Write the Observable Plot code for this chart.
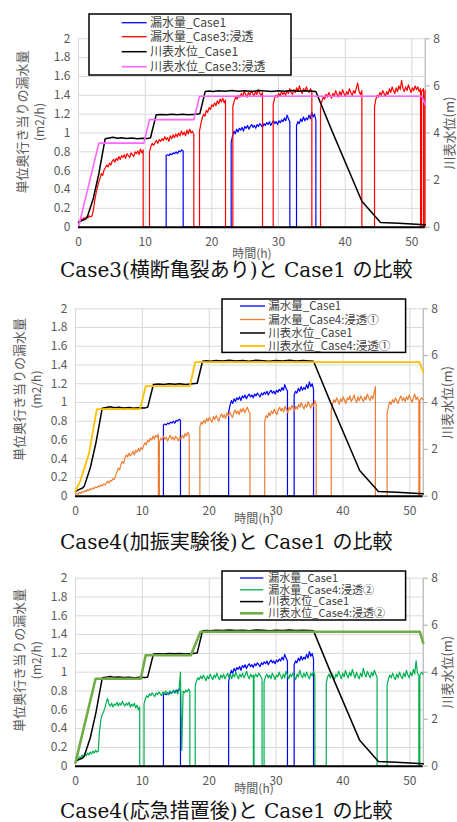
<!DOCTYPE html>
<html><head><meta charset="utf-8">
<script src="https://cdn.jsdelivr.net/npm/d3@7"></script>
<script src="https://cdn.jsdelivr.net/npm/@observablehq/plot@0.6"></script>
<style>
html,body{margin:0;padding:0;background:#fff;}
#root{position:relative;width:457px;height:822px;overflow:hidden;font-family:"Noto Sans CJK JP","Noto Sans",sans-serif;}
.panel{position:absolute;left:0;}
.caption{position:absolute;left:60px;font-family:"DejaVu Serif","Noto Sans CJK JP",serif;font-size:20px;line-height:22px;color:#111;white-space:nowrap;}
.legend{position:absolute;z-index:5;overflow:visible;}
</style></head><body><div id="root"></div>
<script>
// ---- tick labels ----
const xTicks = [0, 10, 20, 30, 40, 50];
const leakTicks = [0, 0.2, 0.4, 0.6, 0.8, 1, 1.2, 1.4, 1.6, 1.8, 2];
const levelTicks = [0, 2, 4, 6, 8];
const yTitle = "単位奥行き当りの漏水量";
const yUnit = "(m2/h)";
const y2Title = "川表水位(m)";
const xTitle = "時間(h)";

// ---- leakage (m2/h): segments of readings, line falls to 0 between segments ----
const leakCase1 = [
  {t0: 13.15, t1: 15.7, v: [0.76,0.77,0.76,0.78,0.77,0.79,0.78,0.80,0.78,0.81,0.80,0.82,0.81]},
  {t0: 22.9, t1: 31.7, v: [0.90,0.97,1.02,0.99,1.04,1.01,1.05,1.03,1.06,1.02,1.07,1.05,1.08,1.04,1.07,1.09,1.06,1.08,1.05,1.09,1.07,1.10,1.08,1.06,1.10,1.08,1.11,1.09,1.12,1.08,1.11,1.13,1.10,1.12,1.09,1.13,1.11,1.14,1.12,1.16,1.13,1.19,1.15,1.12]},
  {t0: 32.7, t1: 35.6, v: [1.08,1.12,1.10,1.15,1.12,1.17,1.13,1.16,1.14,1.19,1.15,1.22,1.17,1.20,1.14]}
];
const leakCase3 = [
  {t0: 0, t1: 9.7, v: [0.05,0.07,0.09,0.08,0.10,0.09,0.11,0.10,0.12,0.11,0.12,0.18,0.28,0.36,0.42,0.48,0.52,0.57,0.55,0.61,0.63,0.66,0.64,0.68,0.66,0.70,0.72,0.69,0.73,0.71,0.75,0.72,0.76,0.74,0.77,0.73,0.78,0.76,0.74,0.79,0.77,0.75,0.80,0.78,0.81,0.77,0.83,0.79,0.82]},
  {t0: 10.65, t1: 17.3, v: [0.80,0.86,0.89,0.87,0.90,0.92,0.89,0.93,0.91,0.94,0.92,0.96,0.93,0.95,0.91,0.97,0.94,0.98,0.95,0.99,0.96,1.00,0.97,1.02,0.98,1.01,0.97,1.03,0.99,1.04,1.00,1.02,0.98]},
  {t0: 18.15, t1: 22.05, v: [1.02,1.10,1.16,1.20,1.18,1.24,1.22,1.27,1.25,1.30,1.28,1.32,1.29,1.34,1.31,1.36,1.33,1.37,1.32,1.35]},
  {t0: 23.15, t1: 27.6, v: [1.28,1.34,1.38,1.36,1.40,1.38,1.42,1.39,1.44,1.41,1.38,1.43,1.40,1.45,1.42,1.39,1.44,1.41,1.46,1.42,1.40,1.43]},
  {t0: 29.2, t1: 35.0, v: [1.30,1.37,1.40,1.38,1.42,1.39,1.44,1.41,1.43,1.40,1.45,1.42,1.47,1.43,1.41,1.46,1.43,1.48,1.44,1.50,1.45,1.42,1.47,1.44,1.49,1.45,1.43,1.47,1.44]},
  {t0: 36.3, t1: 42.5, v: [1.26,1.34,1.38,1.36,1.41,1.38,1.43,1.40,1.37,1.42,1.39,1.45,1.41,1.38,1.44,1.40,1.46,1.42,1.39,1.44,1.41,1.47,1.43,1.40,1.45,1.42,1.48,1.53,1.44,1.41,1.45]},
  {t0: 44.4, t1: 51.3, v: [1.28,1.36,1.40,1.38,1.43,1.40,1.45,1.42,1.39,1.44,1.41,1.47,1.43,1.49,1.45,1.42,1.48,1.44,1.50,1.46,1.56,1.47,1.44,1.49,1.45,1.51,1.47,1.43,1.48,1.45,1.50,1.46,1.49,1.44,1.47]},
  {t0: 51.45, t1: 51.75, v: [1.44,1.47]},
  {t0: 51.95, t1: 52, v: [1.40,1.45]}
];
const leakCase4a = [
  {t0: 0, t1: 12.4, v: [0.02,0.03,0.02,0.04,0.03,0.05,0.04,0.06,0.05,0.07,0.06,0.08,0.07,0.09,0.08,0.10,0.09,0.11,0.10,0.12,0.11,0.13,0.12,0.14,0.16,0.14,0.17,0.16,0.19,0.18,0.22,0.26,0.30,0.28,0.34,0.37,0.35,0.41,0.44,0.42,0.46,0.43,0.45,0.48,0.44,0.49,0.47,0.51,0.48,0.52,0.50,0.54,0.57,0.55,0.60,0.58,0.62,0.60,0.64,0.61,0.65,0.63,0.66]},
  {t0: 12.55, t1: 17.0, v: [0.58,0.62,0.60,0.64,0.61,0.63,0.59,0.62,0.65,0.61,0.63,0.60,0.64,0.62,0.59,0.63,0.61,0.65,0.62,0.67,0.64,0.68,0.66]},
  {t0: 18.6, t1: 26.1, v: [0.74,0.79,0.77,0.81,0.78,0.83,0.80,0.84,0.81,0.79,0.85,0.82,0.86,0.83,0.80,0.85,0.88,0.84,0.87,0.83,0.89,0.86,0.90,0.87,0.84,0.89,0.92,0.88,0.91,0.87,0.93,0.90,0.94,0.89,0.92,0.95,0.91,0.88]},
  {t0: 28.3, t1: 36.0, v: [0.80,0.86,0.84,0.89,0.86,0.91,0.88,0.93,0.90,0.87,0.92,0.95,0.91,0.94,0.90,0.96,0.93,0.89,0.95,0.92,0.97,0.94,0.91,0.96,0.93,0.98,0.95,1.00,0.96,0.93,0.98,0.95,1.01,0.97,0.94,0.99,0.96,1.02,0.98]},
  {t0: 38.25, t1: 44.85, v: [0.92,0.99,1.03,1.00,1.05,1.02,0.98,1.04,1.01,1.06,1.02,0.99,1.05,1.03,1.07,1.01,1.04,1.08,1.03,1.00,1.06,1.02,1.07,1.04,1.01,1.06,1.03,1.09,1.05,1.02,1.07,1.04,1.10,1.17]},
  {t0: 46.6, t1: 51.35, v: [0.88,0.96,1.01,0.98,1.03,1.00,1.05,1.02,0.99,1.04,1.07,1.02,1.05,1.01,1.06,1.03,1.08,1.04,1.00,1.05,1.09,1.03,1.06,1.02]},
  {t0: 51.5, t1: 52, v: [1.02,1.05,1.03]}
];
const leakCase4b = [
  {t0: 0, t1: 9.6, v: [0.06,0.08,0.07,0.10,0.09,0.12,0.10,0.13,0.11,0.14,0.12,0.15,0.13,0.16,0.14,0.17,0.15,0.16,0.38,0.50,0.55,0.58,0.62,0.68,0.72,0.66,0.64,0.67,0.63,0.66,0.65,0.68,0.64,0.67,0.65,0.69,0.66,0.64,0.67,0.65,0.68,0.63,0.66,0.64,0.67,0.62,0.65,0.60,0.63]},
  {t0: 10.25, t1: 17.1, v: [0.66,0.72,0.75,0.73,0.77,0.75,0.78,0.76,0.74,0.78,0.76,0.79,0.77,0.75,0.79,0.77,0.80,0.78,0.76,0.80,0.77,0.79,0.81,0.78,0.80,0.77,0.81,1.00,0.17,0.80,0.78,0.81,0.79,0.82,0.80]},
  {t0: 17.9, t1: 26.6, v: [0.85,0.91,0.94,0.92,0.96,0.93,0.97,0.94,0.91,0.96,0.93,0.98,0.95,0.92,0.97,0.94,0.99,0.95,0.92,0.97,0.94,0.98,0.93,0.96,0.99,0.94,0.97,0.93,0.98,0.95,1.00,0.96,0.93,0.98,0.95,0.99,0.94,0.97,1.01,0.96,0.93,0.98,0.95,0.97]},
  {t0: 26.7, t1: 27.9, v: [0.94,0.98,0.95,0.99,0.96,0.93]},
  {t0: 28.2, t1: 35.8, v: [0.90,0.95,0.98,0.94,0.97,0.93,0.99,0.96,0.92,0.97,0.95,1.00,0.96,0.93,0.98,0.94,1.01,0.97,0.93,0.98,0.95,0.99,0.96,0.92,0.98,0.95,1.02,0.97,0.94,0.99,0.95,1.00,0.96,0.93,0.99,0.96,1.01,0.97]},
  {t0: 37.5, t1: 45.1, v: [0.88,0.95,0.98,0.94,0.99,0.96,0.92,0.98,0.95,1.01,0.97,0.93,0.99,0.95,1.02,0.97,0.94,1.00,0.96,1.03,0.98,0.94,1.00,0.96,0.93,0.99,0.95,1.04,0.98,0.95,1.01,0.97,0.94,1.00,0.96,1.02,0.98,0.95]},
  {t0: 46.6, t1: 51.35, v: [0.86,0.93,0.97,0.94,0.99,0.95,0.92,0.98,0.94,1.00,0.96,0.93,0.99,0.95,1.02,0.97,0.94,1.00,0.96,1.03,0.98,1.12,0.99,0.96]},
  {t0: 51.5, t1: 52, v: [0.97,1.00,0.98]}
];

// ---- river-side water level (m): [hour, metres] ----
const levelCase1 = [[0,0.2],[0.5,0.28],[1,0.34],[1.3,0.42],[2.2,1.2],[3.05,2.27],[4,3.76],[4.6,3.79],[5.2,3.82],[5.8,3.78],[6.5,3.8],[7.2,3.77],[8,3.79],[8.8,3.76],[9.6,3.78],[10.4,3.77],[10.8,3.8],[11.65,4.77],[12.4,4.79],[13.2,4.77],[14,4.8],[14.8,4.78],[15.6,4.8],[16.4,4.77],[17.2,4.79],[18.2,4.82],[19.0,5.76],[19.6,5.78],[20.2,5.76],[21,5.79],[22,5.77],[23,5.8],[24,5.77],[25,5.79],[26,5.76],[27,5.8],[28,5.78],[29,5.76],[30,5.79],[31,5.77],[32,5.8],[33,5.77],[34,5.79],[35,5.77],[35.6,5.76],[38,4.1],[42.5,1.1],[45.3,0.2],[48,0.17],[52,0.1]];
const levelCase3 = [[0,0],[3.05,3.57],[9.8,3.57],[10.65,4.57],[17.3,4.57],[18.15,5.56],[51.5,5.56],[52,5.2]];
const levelCase4a = [[0,0.22],[0.75,0.68],[2,1.8],[3.2,3.72],[9.65,3.72],[10.5,4.7],[17.1,4.7],[17.9,5.72],[51.45,5.72],[52,5.3]];
const levelCase4b = [[0,0.15],[3,3.72],[9.75,3.72],[10.5,4.72],[17.25,4.72],[18.7,5.72],[51.5,5.72],[52,5.25]];

// ---- legend labels & captions ----
const legend1 = ["漏水量_Case1", "漏水量_Case3:浸透", "川表水位_Case1", "川表水位_Case3:浸透"];
const legend2 = ["漏水量_Case1", "漏水量_Case4:浸透①", "川表水位_Case1", "川表水位_Case4:浸透①"];
const legend3 = ["漏水量_Case1", "漏水量_Case4:浸透②", "川表水位_Case1", "川表水位_Case4:浸透②"];
const captions = ["Case3(横断亀裂あり)と Case1 の比較", "Case4(加振実験後)と Case1 の比較", "Case4(応急措置後)と Case1 の比較"];

function expand(segs) {
  const pts = [];
  for (const s of segs) {
    if (s.t0 > 0) pts.push([s.t0, 0]);
    const n = s.v.length;
    s.v.forEach((v, i) => pts.push([n > 1 ? s.t0 + (s.t1 - s.t0) * i / (n - 1) : s.t0, v]));
    if (s.t1 < 52) pts.push([s.t1, 0]);
  }
  return pts;
}

const root = document.getElementById("root");
const FONT = "'Noto Sans CJK JP','Noto Sans',sans-serif";

const panels = [
  {top: 0, h: 262, ml: 78, mr: 32.3, mt: 38.3, mb: 35.3, leak: leakCase3, leakColor: "#ff0000", level: levelCase3, levelColor: "#ff66ff", levelWidth: 1.6,
   tdy: -11, xldy: 26.5, xlx: 26.0, caption: captions[0], capTop: 259,
   legend: {labels: legend1, x: 89, y: 14, w: 202, h: 61, rows: [8.7, 22.7, 37.7, 52.7], s0: 32.7, s1: 57.7, tx: 61, fs: 12}},
  {top: 285, h: 240, ml: 75, mr: 34.3, mt: 23.3, mb: 29.3, leak: leakCase4a, leakColor: "#ed7d31", level: levelCase4a, levelColor: "#ffc000", levelWidth: 1.8,
   tdy: -13, xldy: 22.5, xlx: 26.7, caption: captions[1], capTop: 530.5,
   legend: {labels: legend2, x: 221.7, y: 299.3, w: 183.6, h: 53.4, rows: [7, 20.5, 34, 47], s0: 18, s1: 43, tx: 46.3, fs: 11.5}},
  {top: 555, h: 240, ml: 75, mr: 34.3, mt: 22.7, mb: 29.3, leak: leakCase4b, leakColor: "#00b050", level: levelCase4b, levelColor: "#70ad47", levelWidth: 2.6,
   tdy: -12, xldy: 23.3, xlx: 26.7, caption: captions[2], capTop: 799.5,
   legend: {labels: legend3, x: 221.7, y: 571, w: 183.6, h: 49, rows: [7, 18.8, 30.6, 42.3], s0: 18, s1: 41.3, tx: 46.3, fs: 11}}
];

for (const p of panels) {
  const chart = Plot.plot({
    width: 457, height: p.h,
    marginLeft: p.ml, marginRight: p.mr, marginTop: p.mt, marginBottom: p.mb,
    x: {domain: [0, 52], axis: null, label: null},
    y: {domain: [0, 2], axis: null, label: null},
    style: {fontFamily: FONT, fontSize: "12px", color: "#595959", background: "transparent", overflow: "visible"},
    marks: [
      Plot.gridY(leakTicks, {stroke: "#d9d9d9", strokeOpacity: 1, strokeWidth: 1}),
      Plot.gridX(xTicks, {stroke: "#d9d9d9", strokeOpacity: 1, strokeWidth: 1}),
      Plot.ruleX([52], {stroke: "#a6a6a6", strokeWidth: 1}),
      Plot.axisY(leakTicks, {anchor: "left", tickSize: 0, tickPadding: 8, tickFormat: d => String(d), label: null}),
      Plot.axisY(levelTicks.map(d => d / 4), {anchor: "right", tickSize: 4, tickPadding: 4, tickFormat: d => String(d * 4), label: null, stroke: "#a6a6a6"}),
      Plot.axisX(xTicks, {anchor: "bottom", tickSize: 0, tickPadding: 10, tickFormat: d => String(d), label: null}),
      Plot.line(expand(leakCase1), {x: d => d[0], y: d => d[1], stroke: "#0000ff", strokeWidth: 1.2}),
      Plot.line(expand(p.leak), {x: d => d[0], y: d => d[1], stroke: p.leakColor, strokeWidth: 1.2}),
      Plot.line(levelCase1, {x: d => d[0], y: d => d[1] / 4, stroke: "#000000", strokeWidth: 1.5}),
      Plot.line(p.level, {x: d => d[0], y: d => d[1] / 4, stroke: p.levelColor, strokeWidth: p.levelWidth}),
      Plot.ruleY([0], {stroke: "#000000", strokeWidth: 2}),
      Plot.text([yTitle], {text: d => d, frameAnchor: "left", textAnchor: "middle", lineAnchor: "middle", rotate: -90, dx: -56, dy: p.tdy, fontSize: 13, fill: "#595959"}),
      Plot.text([yUnit], {text: d => d, frameAnchor: "left", textAnchor: "middle", lineAnchor: "middle", rotate: -90, dx: -38, dy: p.tdy, fontSize: 12, fill: "#595959"}),
      Plot.text([y2Title], {text: d => d, frameAnchor: "right", textAnchor: "middle", lineAnchor: "middle", rotate: -90, dx: 25, dy: 0, fontSize: 13, fill: "#595959"}),
      Plot.text([{t: p.xlx, s: xTitle}], {x: "t", text: "s", frameAnchor: "bottom", lineAnchor: "middle", dy: p.xldy, fontSize: 12, fill: "#595959"})
    ]
  });
  chart.classList.add("panel");
  chart.style.top = p.top + "px";
  root.appendChild(chart);

  // legend
  const L = p.legend;
  const cols = [{c: "#0000ff", w: 1.3}, {c: p.leakColor, w: 1.3}, {c: "#000000", w: 1.5}, {c: p.levelColor, w: p.levelWidth}];
  const lg = d3.create("svg").attr("class", "legend").attr("width", L.w + 2).attr("height", L.h + 2)
    .style("left", (L.x - 1) + "px").style("top", (L.y - 1) + "px");
  lg.append("rect").attr("x", 1).attr("y", 1).attr("width", L.w).attr("height", L.h)
    .attr("fill", "#fff").attr("stroke", "#000").attr("stroke-width", 1.5);
  L.labels.forEach((lab, i) => {
    const yy = 1 + L.rows[i];
    lg.append("line").attr("x1", 1 + L.s0).attr("x2", 1 + L.s1).attr("y1", yy).attr("y2", yy)
      .attr("stroke", cols[i].c).attr("stroke-width", cols[i].w);
    lg.append("text").attr("x", 1 + L.tx).attr("y", yy).attr("dy", "0.35em")
      .attr("font-family", FONT).attr("font-size", L.fs).attr("fill", "#404040").text(lab);
  });
  root.appendChild(lg.node());

  const cap = document.createElement("div");
  cap.className = "caption";
  cap.style.top = p.capTop + "px";
  cap.textContent = p.caption;
  root.appendChild(cap);
}
</script></body></html>
